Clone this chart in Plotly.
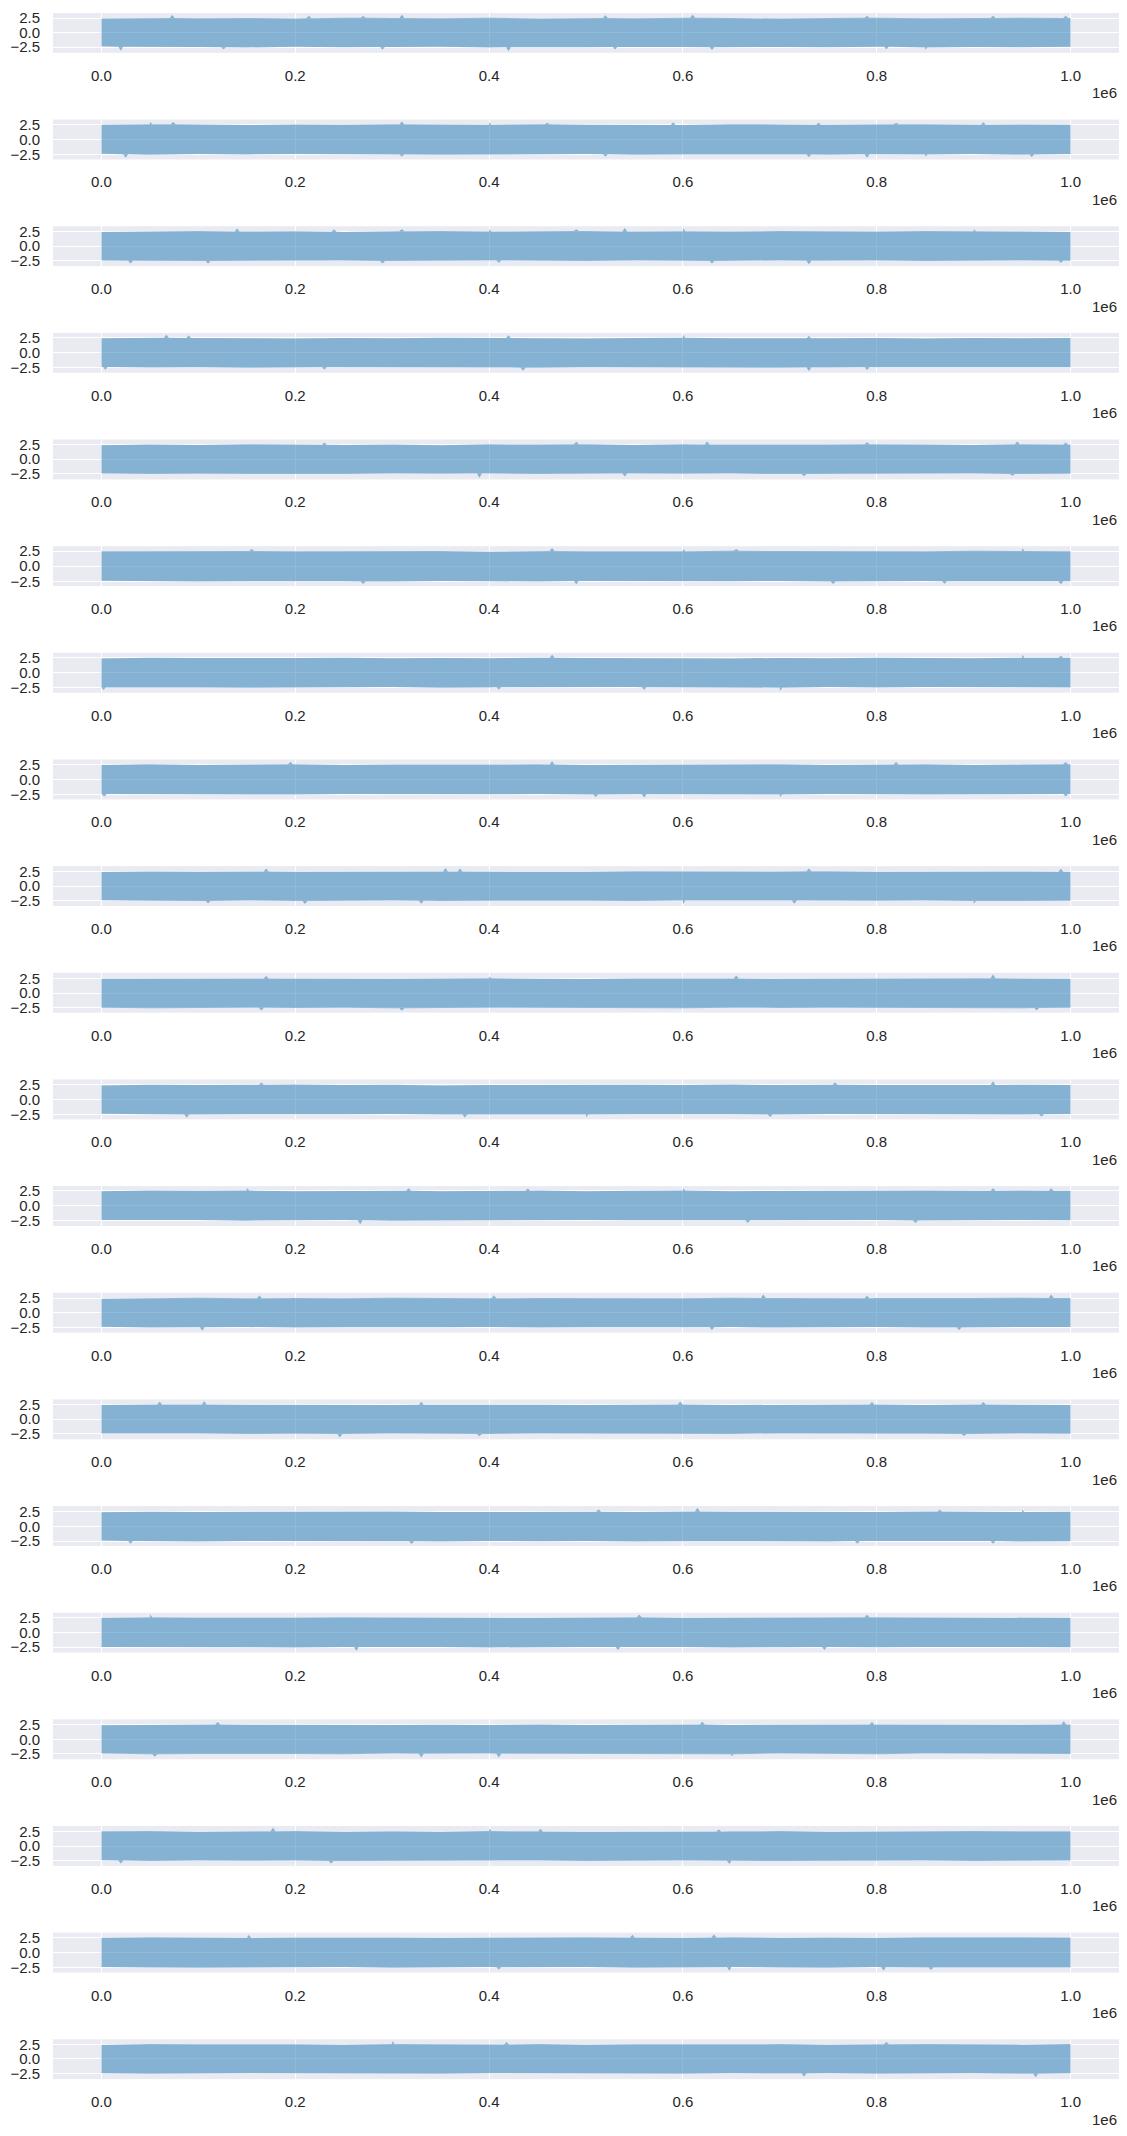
import numpy as np
import plotly.graph_objects as go

# ---------------- data ----------------
n_panels = 20
env_positions = [0, 50000, 100000, 150000, 200000, 250000, 300000, 350000, 400000,
                 450000, 500000, 550000, 600000, 650000, 700000, 750000, 800000,
                 850000, 900000, 950000, 1000000]

upper_env = [
    [2.40, 2.55, 2.45, 2.50, 2.40, 2.55, 2.50, 2.45, 2.55, 2.40, 2.50, 2.45, 2.55, 2.50, 2.40, 2.50, 2.55, 2.45, 2.50, 2.55, 2.50],
    [2.45, 2.55, 2.50, 2.40, 2.50, 2.45, 2.55, 2.50, 2.45, 2.55, 2.45, 2.50, 2.40, 2.55, 2.50, 2.45, 2.50, 2.55, 2.45, 2.50, 2.45],
    [2.40, 2.50, 2.55, 2.45, 2.50, 2.40, 2.50, 2.55, 2.45, 2.50, 2.55, 2.45, 2.50, 2.45, 2.55, 2.50, 2.45, 2.55, 2.50, 2.45, 2.40],
    [2.45, 2.55, 2.50, 2.45, 2.40, 2.50, 2.45, 2.55, 2.50, 2.45, 2.40, 2.50, 2.55, 2.45, 2.50, 2.45, 2.50, 2.40, 2.50, 2.45, 2.50],
    [2.40, 2.50, 2.45, 2.55, 2.50, 2.45, 2.50, 2.40, 2.55, 2.50, 2.55, 2.45, 2.55, 2.50, 2.45, 2.50, 2.55, 2.50, 2.45, 2.55, 2.50],
    [2.45, 2.50, 2.55, 2.50, 2.45, 2.50, 2.45, 2.50, 2.40, 2.55, 2.45, 2.50, 2.45, 2.55, 2.50, 2.45, 2.50, 2.45, 2.55, 2.50, 2.45],
    [2.40, 2.55, 2.50, 2.45, 2.50, 2.55, 2.45, 2.50, 2.45, 2.55, 2.50, 2.45, 2.50, 2.40, 2.50, 2.45, 2.55, 2.50, 2.45, 2.55, 2.55],
    [2.45, 2.55, 2.45, 2.50, 2.55, 2.45, 2.50, 2.45, 2.50, 2.55, 2.45, 2.50, 2.45, 2.50, 2.55, 2.45, 2.50, 2.55, 2.45, 2.50, 2.55],
    [2.40, 2.50, 2.45, 2.55, 2.45, 2.50, 2.55, 2.50, 2.45, 2.50, 2.45, 2.55, 2.50, 2.45, 2.50, 2.55, 2.45, 2.50, 2.55, 2.50, 2.45],
    [2.45, 2.50, 2.55, 2.50, 2.45, 2.50, 2.45, 2.50, 2.55, 2.45, 2.40, 2.50, 2.45, 2.50, 2.45, 2.50, 2.45, 2.50, 2.55, 2.50, 2.45],
    [2.40, 2.50, 2.45, 2.50, 2.55, 2.45, 2.50, 2.40, 2.45, 2.50, 2.45, 2.50, 2.45, 2.55, 2.45, 2.50, 2.45, 2.50, 2.45, 2.50, 2.45],
    [2.45, 2.55, 2.50, 2.55, 2.45, 2.50, 2.55, 2.45, 2.50, 2.55, 2.45, 2.50, 2.55, 2.45, 2.50, 2.45, 2.50, 2.55, 2.50, 2.55, 2.50],
    [2.40, 2.50, 2.55, 2.45, 2.50, 2.45, 2.55, 2.50, 2.45, 2.50, 2.45, 2.50, 2.45, 2.55, 2.50, 2.45, 2.50, 2.45, 2.50, 2.55, 2.50],
    [2.45, 2.55, 2.55, 2.50, 2.45, 2.50, 2.45, 2.50, 2.45, 2.50, 2.45, 2.50, 2.55, 2.45, 2.50, 2.45, 2.55, 2.45, 2.55, 2.50, 2.45],
    [2.40, 2.50, 2.45, 2.50, 2.45, 2.50, 2.55, 2.45, 2.50, 2.45, 2.50, 2.45, 2.55, 2.50, 2.45, 2.50, 2.45, 2.55, 2.50, 2.45, 2.50],
    [2.45, 2.55, 2.50, 2.45, 2.50, 2.55, 2.50, 2.45, 2.50, 2.45, 2.50, 2.55, 2.45, 2.50, 2.45, 2.50, 2.55, 2.50, 2.45, 2.50, 2.45],
    [2.40, 2.50, 2.55, 2.50, 2.45, 2.50, 2.45, 2.50, 2.45, 2.55, 2.45, 2.50, 2.55, 2.45, 2.50, 2.45, 2.55, 2.50, 2.45, 2.50, 2.55],
    [2.50, 2.55, 2.45, 2.50, 2.55, 2.45, 2.50, 2.45, 2.55, 2.50, 2.45, 2.50, 2.45, 2.50, 2.55, 2.45, 2.50, 2.45, 2.55, 2.50, 2.50],
    [2.45, 2.55, 2.50, 2.45, 2.50, 2.55, 2.50, 2.45, 2.50, 2.45, 2.55, 2.50, 2.45, 2.55, 2.45, 2.50, 2.45, 2.55, 2.50, 2.55, 2.50],
    [2.40, 2.55, 2.50, 2.55, 2.50, 2.45, 2.55, 2.50, 2.45, 2.55, 2.45, 2.50, 2.45, 2.50, 2.55, 2.45, 2.50, 2.55, 2.50, 2.45, 2.55],
]

lower_env = [
    [-2.35, -2.50, -2.45, -2.55, -2.40, -2.50, -2.45, -2.40, -2.55, -2.45, -2.50, -2.40, -2.45, -2.55, -2.45, -2.50, -2.40, -2.55, -2.45, -2.50, -2.40],
    [-2.40, -2.55, -2.45, -2.50, -2.45, -2.40, -2.50, -2.55, -2.45, -2.50, -2.45, -2.55, -2.50, -2.45, -2.50, -2.55, -2.45, -2.50, -2.45, -2.55, -2.45],
    [-2.45, -2.50, -2.55, -2.45, -2.50, -2.45, -2.55, -2.50, -2.45, -2.50, -2.55, -2.45, -2.50, -2.55, -2.45, -2.50, -2.45, -2.55, -2.50, -2.45, -2.50],
    [-2.40, -2.50, -2.45, -2.55, -2.50, -2.45, -2.50, -2.45, -2.50, -2.55, -2.45, -2.50, -2.45, -2.50, -2.55, -2.50, -2.45, -2.50, -2.55, -2.45, -2.45],
    [-2.45, -2.55, -2.50, -2.45, -2.50, -2.55, -2.45, -2.50, -2.45, -2.55, -2.50, -2.45, -2.50, -2.45, -2.55, -2.50, -2.45, -2.50, -2.45, -2.55, -2.50],
    [-2.40, -2.50, -2.55, -2.50, -2.45, -2.50, -2.55, -2.45, -2.50, -2.55, -2.45, -2.50, -2.45, -2.50, -2.45, -2.55, -2.50, -2.45, -2.55, -2.50, -2.50],
    [-2.50, -2.45, -2.50, -2.55, -2.45, -2.50, -2.45, -2.55, -2.50, -2.45, -2.50, -2.45, -2.55, -2.50, -2.55, -2.45, -2.50, -2.45, -2.50, -2.45, -2.50],
    [-2.45, -2.50, -2.45, -2.50, -2.55, -2.45, -2.50, -2.45, -2.50, -2.45, -2.55, -2.50, -2.45, -2.50, -2.55, -2.45, -2.50, -2.55, -2.45, -2.50, -2.45],
    [-2.40, -2.50, -2.55, -2.45, -2.55, -2.50, -2.45, -2.55, -2.50, -2.45, -2.50, -2.55, -2.45, -2.50, -2.45, -2.55, -2.50, -2.45, -2.55, -2.50, -2.50],
    [-2.45, -2.55, -2.50, -2.45, -2.50, -2.45, -2.55, -2.50, -2.45, -2.50, -2.45, -2.50, -2.55, -2.45, -2.50, -2.45, -2.50, -2.45, -2.50, -2.55, -2.45],
    [-2.40, -2.50, -2.55, -2.50, -2.45, -2.50, -2.45, -2.55, -2.50, -2.45, -2.55, -2.50, -2.45, -2.50, -2.55, -2.45, -2.50, -2.45, -2.50, -2.55, -2.45],
    [-2.45, -2.50, -2.45, -2.55, -2.50, -2.45, -2.55, -2.50, -2.45, -2.50, -2.45, -2.50, -2.55, -2.50, -2.45, -2.50, -2.45, -2.55, -2.50, -2.45, -2.50],
    [-2.40, -2.55, -2.50, -2.45, -2.55, -2.50, -2.45, -2.50, -2.45, -2.55, -2.50, -2.45, -2.50, -2.45, -2.55, -2.50, -2.45, -2.55, -2.50, -2.45, -2.45],
    [-2.45, -2.50, -2.45, -2.55, -2.50, -2.55, -2.45, -2.50, -2.55, -2.45, -2.50, -2.45, -2.50, -2.55, -2.45, -2.50, -2.45, -2.50, -2.55, -2.45, -2.50],
    [-2.40, -2.50, -2.55, -2.45, -2.50, -2.45, -2.50, -2.55, -2.45, -2.50, -2.45, -2.55, -2.50, -2.45, -2.50, -2.55, -2.45, -2.50, -2.45, -2.55, -2.50],
    [-2.45, -2.50, -2.45, -2.50, -2.55, -2.45, -2.50, -2.45, -2.55, -2.50, -2.45, -2.50, -2.45, -2.55, -2.50, -2.45, -2.50, -2.45, -2.50, -2.45, -2.50],
    [-2.45, -2.55, -2.50, -2.45, -2.50, -2.55, -2.45, -2.50, -2.45, -2.55, -2.50, -2.45, -2.50, -2.55, -2.45, -2.50, -2.55, -2.45, -2.50, -2.45, -2.50],
    [-2.40, -2.55, -2.45, -2.50, -2.45, -2.55, -2.50, -2.45, -2.50, -2.45, -2.55, -2.50, -2.45, -2.50, -2.55, -2.45, -2.50, -2.45, -2.55, -2.50, -2.45],
    [-2.45, -2.50, -2.55, -2.45, -2.50, -2.45, -2.55, -2.50, -2.45, -2.50, -2.45, -2.55, -2.50, -2.45, -2.50, -2.55, -2.45, -2.50, -2.45, -2.50, -2.50],
    [-2.45, -2.55, -2.50, -2.45, -2.50, -2.45, -2.50, -2.55, -2.45, -2.50, -2.45, -2.50, -2.55, -2.45, -2.50, -2.45, -2.55, -2.50, -2.45, -2.55, -2.45],
]

# positive excursions (sample index, value) per panel
spike_up_pos = [
    [73000, 214000, 270000, 310000, 520000, 610000, 790000, 920000, 995000],
    [50000, 74000, 310000, 400000, 460000, 590000, 740000, 820000, 910000],
    [140000, 240000, 310000, 400000, 490000, 540000, 600000, 900000],
    [67000, 90000, 420000, 600000, 730000],
    [230000, 490000, 625000, 790000, 945000, 995000],
    [155000, 465000, 600000, 655000, 950000],
    [465000, 950000, 990000],
    [195000, 465000, 820000, 995000],
    [170000, 355000, 370000, 730000, 990000],
    [170000, 400000, 655000, 920000],
    [165000, 757000, 920000],
    [150000, 317000, 440000, 600000, 920000, 980000],
    [163000, 405000, 683000, 790000, 980000],
    [60000, 106000, 330000, 597000, 795000, 910000],
    [513000, 615000, 865000, 950000],
    [50000, 555000, 790000],
    [120000, 620000, 795000, 993000],
    [177000, 400000, 453000, 637000],
    [152000, 548000, 632000],
    [300000, 418000, 810000],
]
spike_up_val = [
    [3.00, 2.90, 2.85, 3.05, 2.95, 3.05, 2.85, 2.90, 2.90],
    [2.95, 2.90, 3.00, 2.85, 2.80, 2.85, 2.80, 2.80, 2.85],
    [3.00, 2.85, 2.90, 2.85, 2.85, 3.05, 3.05, 2.85],
    [3.05, 2.90, 2.95, 3.05, 2.85],
    [2.85, 3.00, 3.05, 2.90, 3.05, 2.85],
    [2.85, 3.00, 2.85, 2.85, 3.00],
    [3.05, 3.05, 2.85],
    [2.95, 3.05, 2.95, 2.95],
    [3.00, 3.10, 3.00, 3.00, 2.95],
    [2.90, 2.85, 3.00, 3.15],
    [2.90, 2.95, 3.10],
    [3.00, 2.95, 2.90, 2.95, 2.95, 2.95],
    [2.95, 2.95, 3.10, 2.90, 3.10],
    [3.00, 3.10, 3.00, 3.00, 2.95, 2.95],
    [2.90, 3.15, 2.85, 2.85],
    [3.00, 2.95, 2.95],
    [2.95, 3.00, 2.95, 3.10],
    [3.10, 2.95, 2.95, 2.80],
    [2.90, 2.95, 3.00],
    [3.05, 2.90, 2.90],
]

# negative excursions (sample index, value) per panel
spike_dn_pos = [
    [20000, 126000, 290000, 420000, 530000, 630000, 810000, 850000],
    [25000, 310000, 520000, 730000, 790000, 850000, 960000],
    [30000, 110000, 290000, 410000, 630000, 730000, 990000],
    [4000, 230000, 435000, 730000, 790000],
    [390000, 540000, 725000, 940000],
    [270000, 490000, 755000, 870000, 990000],
    [2000, 410000, 560000, 700000],
    [3000, 510000, 560000, 700000, 995000],
    [110000, 210000, 330000, 600000, 715000, 900000],
    [165000, 310000, 965000],
    [88000, 375000, 500000, 690000, 970000],
    [267000, 667000, 840000],
    [104000, 630000, 885000],
    [246000, 390000, 890000],
    [30000, 320000, 780000, 920000],
    [263000, 533000, 746000],
    [55000, 330000, 410000, 650000],
    [20000, 237000, 648000],
    [410000, 648000, 807000, 856000],
    [725000, 964000],
]
spike_dn_val = [
    [-3.10, -2.85, -2.95, -3.15, -2.90, -2.95, -2.85, -2.90],
    [-3.05, -2.85, -2.90, -2.95, -3.05, -2.90, -2.95],
    [-2.95, -2.95, -2.95, -2.85, -2.95, -3.10, -2.85],
    [-2.90, -2.85, -3.05, -3.10, -2.95],
    [-3.15, -2.95, -2.90, -2.85],
    [-2.95, -3.00, -2.95, -2.90, -3.00],
    [-2.90, -2.85, -2.90, -3.10],
    [-2.85, -2.95, -3.05, -2.95, -2.85],
    [-2.95, -3.05, -3.00, -3.10, -3.00, -3.00],
    [-2.95, -3.00, -2.90],
    [-3.05, -3.05, -3.00, -2.95, -2.90],
    [-3.15, -2.95, -2.95],
    [-3.10, -2.95, -2.95],
    [-3.15, -2.95, -2.90],
    [-2.95, -3.00, -2.95, -2.95],
    [-3.10, -2.95, -2.95],
    [-3.00, -3.10, -3.10, -2.90],
    [-2.95, -2.95, -3.05],
    [-2.85, -3.05, -3.00, -2.95],
    [-3.00, -3.15],
]

x_tick_vals = [0, 200000, 400000, 600000, 800000, 1000000]
x_tick_text = ["0.0", "0.2", "0.4", "0.6", "0.8", "1.0"]
y_tick_vals = [-2.5, 0.0, 2.5]
y_tick_text = ["\u22122.5", "0.0", "2.5"]
offset_label = "1e6"

# ---------------- styling / layout ----------------
W, H = 1127, 2136
plot_left, plot_right = 53, 1119
row_top0, row_step, row_h = 9.0, 107.0, 40.0
band_color = "rgba(31,119,180,0.5)"
bg_color = "#EAEAF2"
text_color = "#262626"
font_family = "Arial, 'Liberation Sans', sans-serif"
font_size = 15
half_w = 2500  # half-width of a drawn excursion (sample units)

x_min, x_max = env_positions[0], env_positions[-1]


def edge(env, pos, val):
    xs = list(env_positions)
    ys = list(env)
    for p, v in zip(pos, val):
        b = float(np.interp(p, env_positions, env))
        p0 = max(x_min, p - half_w)
        p1 = min(x_max, p + half_w)
        xs += [p0, p, p1]
        ys += [b, v, b]
    order = np.argsort(np.array(xs), kind="stable")
    return list(np.array(xs)[order]), list(np.array(ys)[order])


fig = go.Figure()
layout = dict(
    width=W, height=H,
    margin=dict(l=0, r=0, t=0, b=0),
    paper_bgcolor="white",
    plot_bgcolor=bg_color,
    showlegend=False,
    font=dict(family=font_family, size=font_size, color=text_color),
    annotations=[],
)

span_x = x_max - x_min
for i in range(n_panels):
    ux, uy = edge(upper_env[i], spike_up_pos[i], spike_up_val[i])
    lx, ly = edge(lower_env[i], spike_dn_pos[i], spike_dn_val[i])
    px = ux + lx[::-1]
    py = uy + ly[::-1]
    sfx = "" if i == 0 else str(i + 1)
    fig.add_trace(go.Scatter(
        x=px, y=py, mode="lines", fill="toself",
        fillcolor=band_color, line=dict(width=0, color=band_color),
        hoverinfo="skip",
        xaxis="x" + sfx, yaxis="y" + sfx,
    ))

    lo = min(min(ly), min(uy))
    hi = max(max(uy), max(ly))
    sp = hi - lo
    top = row_top0 + row_step * i
    bot = top + row_h
    ydom = [1 - bot / H, 1 - top / H]
    xdom = [plot_left / W, plot_right / W]

    layout["xaxis" + sfx] = dict(
        domain=xdom, anchor="y" + sfx,
        range=[x_min - 0.05 * span_x, x_max + 0.05 * span_x],
        tickmode="array", tickvals=x_tick_vals, ticktext=x_tick_text,
        showgrid=True, gridcolor="white", gridwidth=1.3,
        zeroline=False, showline=False, ticks="",
        ticklabelstandoff=12,
        tickfont=dict(family=font_family, size=font_size, color=text_color),
    )
    layout["yaxis" + sfx] = dict(
        domain=ydom, anchor="x" + sfx,
        range=[lo - 0.05 * sp, hi + 0.05 * sp],
        tickmode="array", tickvals=y_tick_vals, ticktext=y_tick_text,
        showgrid=True, gridcolor="white", gridwidth=1.3,
        zeroline=False, showline=False, ticks="",
        ticklabelstandoff=12,
        tickfont=dict(family=font_family, size=font_size, color=text_color),
    )
    layout["annotations"].append(dict(
        text=offset_label, xref="paper", yref="paper",
        x=plot_right / W, y=1 - (bot + 40) / H,
        xanchor="right", yanchor="middle", showarrow=False,
        font=dict(family=font_family, size=font_size, color=text_color),
    ))

fig.update_layout(**layout)
fig.write_html("out.html")
